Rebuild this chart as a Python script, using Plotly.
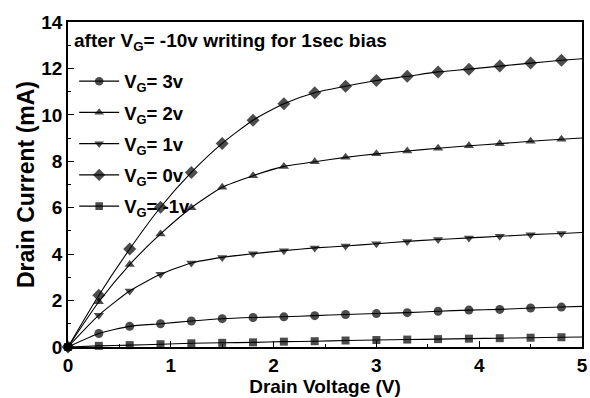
import plotly.graph_objects as go

vd = [0, 0.3, 0.6, 0.9, 1.2, 1.5, 1.8, 2.1, 2.4, 2.7, 3.0, 3.3, 3.6, 3.9, 4.2, 4.5, 4.8, 5.0]

id_3v = [0, 0.58, 0.89, 1.0, 1.12, 1.22, 1.27, 1.30, 1.35, 1.40, 1.44, 1.48, 1.54, 1.59, 1.62, 1.68, 1.72, 1.75]
id_2v = [0, 1.95, 3.55, 4.87, 6.0, 6.88, 7.38, 7.78, 7.98, 8.17, 8.32, 8.44, 8.56, 8.67, 8.76, 8.86, 8.95, 9.0]
id_1v = [0, 1.37, 2.41, 3.13, 3.62, 3.86, 4.02, 4.15, 4.27, 4.35, 4.45, 4.55, 4.63, 4.70, 4.77, 4.84, 4.89, 4.93]
id_0v = [0, 2.23, 4.22, 6.02, 7.52, 8.77, 9.77, 10.48, 10.95, 11.23, 11.48, 11.66, 11.85, 11.97, 12.10, 12.23, 12.35, 12.42]
id_m1v = [0, 0.05, 0.08, 0.12, 0.16, 0.18, 0.20, 0.23, 0.25, 0.28, 0.30, 0.32, 0.34, 0.36, 0.38, 0.40, 0.42, 0.43]

series = [
    ("V<sub>G</sub>= 3v", id_3v, "circle", 9),
    ("V<sub>G</sub>= 2v", id_2v, "triangle-up", 9),
    ("V<sub>G</sub>= 1v", id_1v, "triangle-down", 9),
    ("V<sub>G</sub>= 0v", id_0v, "diamond", 10),
    ("V<sub>G</sub>= -1v", id_m1v, "square", 8),
]

legend_title = "after V<sub>G</sub>= -10v writing for 1sec bias"

fig = go.Figure()
for i, (name, ys, sym, sz) in enumerate(series):
    sizes = [sz] * (len(vd) - 1) + [0]
    fig.add_trace(go.Scatter(
        x=vd, y=ys, name=name, mode="lines+markers",
        line=dict(color="black", width=1.1, shape="spline", smoothing=0.6),
        marker=dict(symbol=sym, size=sizes, color="black", line=dict(width=0)),
        legendgroup=f"g{i}",
        cliponaxis=False,
    ))

font_family = "Liberation Sans, Arial, sans-serif"

fig.add_annotation(
    text=legend_title, xref="paper", yref="paper", x=0.008, y=0.938,
    xanchor="left", yanchor="middle", showarrow=False,
    font=dict(size=19, family=font_family, color="black", weight="bold"),
)

fig.update_layout(
    width=590, height=398,
    margin=dict(l=68, r=2, t=22, b=51),
    plot_bgcolor="white", paper_bgcolor="white",
    font=dict(family=font_family, color="black", size=16),
    showlegend=True,
    legend=dict(
        x=0.012, y=0.875, xanchor="left", yanchor="top",
        bgcolor="rgba(0,0,0,0)",
        font=dict(size=18.5, family=font_family, color="black", weight="bold"),
        tracegroupgap=4.2,
        itemwidth=40,
    ),
    xaxis=dict(
        range=[0, 5], tickvals=[0, 1, 2, 3, 4, 5],
        ticks="inside", ticklen=6, tickwidth=1.2, tickcolor="black",
        minor=dict(ticks="inside", ticklen=3, dtick=0.5, tickcolor="black"),
        showline=True, linecolor="black", linewidth=1.5, mirror=True,
        showgrid=False, zeroline=False,
        ticklabeloverflow="allow",
        tickfont=dict(size=19, weight="bold"),
        title=dict(text="Drain Voltage (V)", font=dict(size=19, weight="bold"), standoff=0),
    ),
    yaxis=dict(
        range=[0, 14], tickvals=[0, 2, 4, 6, 8, 10, 12, 14],
        ticks="inside", ticklen=6, tickwidth=1.2, tickcolor="black",
        minor=dict(ticks="inside", ticklen=3, dtick=1, tickcolor="black"),
        showline=True, linecolor="black", linewidth=1.5, mirror=True,
        showgrid=False, zeroline=False,
        ticklabeloverflow="allow",
        tickfont=dict(size=19, weight="bold"),
        title=dict(text="Drain Current (mA)", font=dict(size=23, weight="bold"), standoff=0),
    ),
)

fig.write_html("out.html")
